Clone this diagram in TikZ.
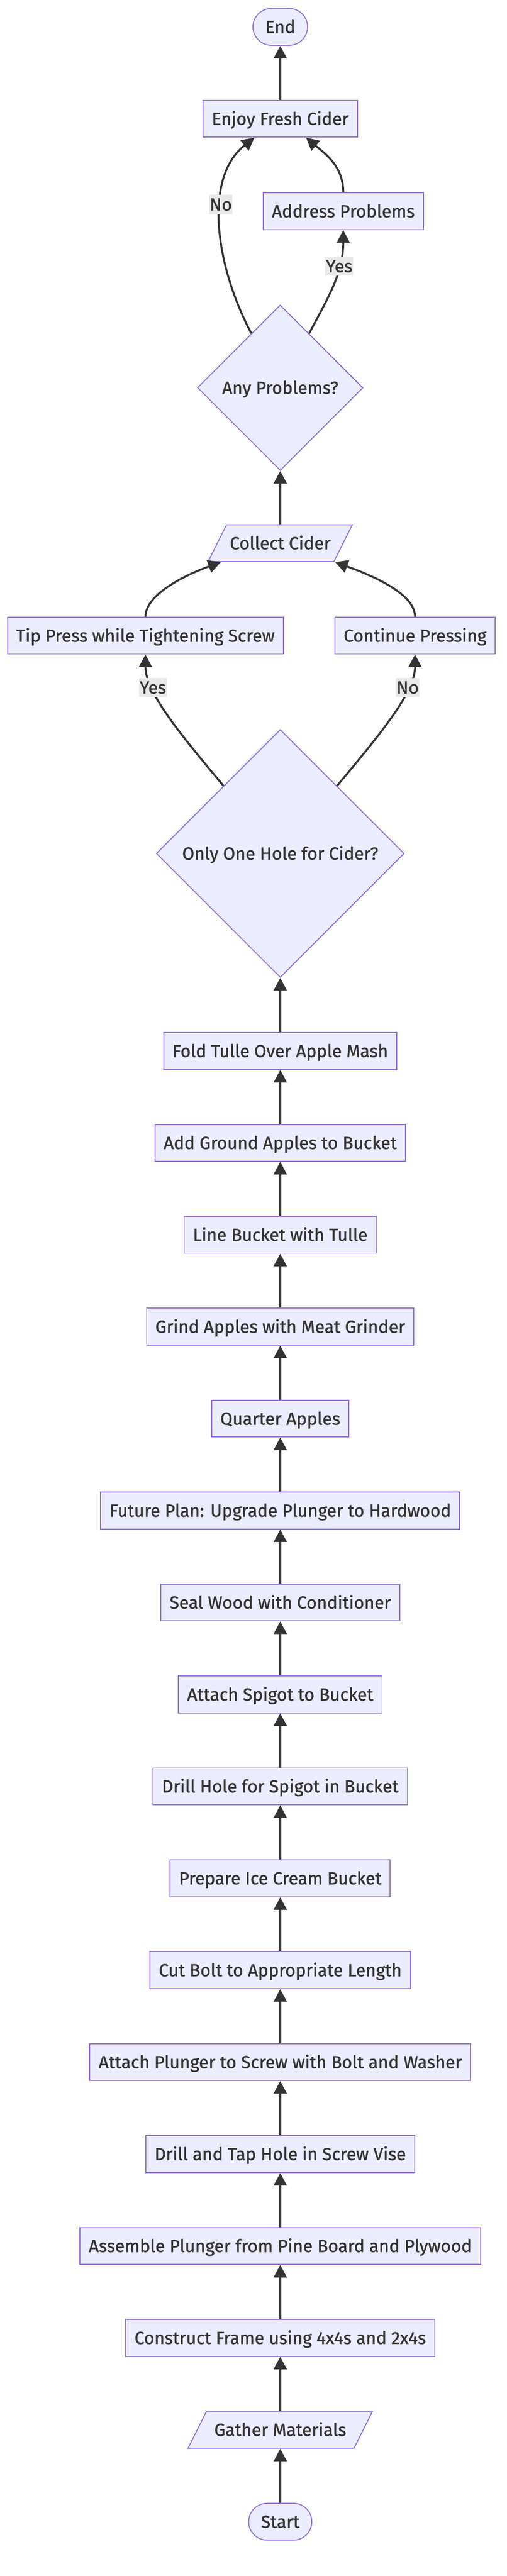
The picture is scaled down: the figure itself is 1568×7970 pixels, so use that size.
\documentclass[tikz,border=0pt]{standalone}
\usepackage{fontspec}
\setmainfont{Fira Sans}[FakeBold=1]
\usetikzlibrary{arrows.meta, shapes, positioning}

\definecolor{boxfill}{HTML}{ECECFF}
\definecolor{boxline}{HTML}{9370DB}
\definecolor{ink}{HTML}{333333}
\definecolor{lblfill}{HTML}{E8E8E8}

\begin{document}
\begin{tikzpicture}[x=1pt, y=1pt, node distance=284.4pt, on grid,
    font=\fontsize{54.5}{66}\selectfont, text=ink,
    base/.style={draw=boxline, fill=boxfill, line width=3pt, text height=49pt, text depth=11pt, inner ysep=27pt},
    process/.style={base, rectangle, inner xsep=27pt},
    terminal/.style={base, rectangle, rounded corners=57pt, inner xsep=38pt},
    io/.style={base, trapezium, trapezium left angle=63.4, trapezium right angle=116.6, inner xsep=24pt},
    decision/.style={base, diamond, inner sep=0pt},
    flow/.style={every edge/.style={draw=ink, line width=6pt, -{Triangle[length=39pt,width=40pt]}}},
    lbl/.style={fill=lblfill, inner xsep=2pt, inner ysep=0pt, text height=49pt, text depth=11pt}]
		\useasboundingbox (0,0) rectangle (1568,-7970);

		\node[terminal] (start) at (867,-7802) {Start};
		\node[io, above=of start] (gather) {Gather Materials};
		\node[process, above=of gather] (frame) {Construct Frame using 4x4s and 2x4s};
		\node[process, above=of frame] (plunger) {Assemble Plunger from Pine Board and Plywood};
		\node[process, above=of plunger] (tap) {Drill and Tap Hole in Screw Vise};
		\node[process, above=of tap] (attach) {Attach Plunger to Screw with Bolt and Washer};
		\node[process, above=of attach] (bolt) {Cut Bolt to Appropriate Length};
		\node[process, above=of bolt] (bucket) {Prepare Ice Cream Bucket};
		\node[process, above=of bucket] (drill) {Drill Hole for Spigot in Bucket};
		\node[process, above=of drill] (spigot) {Attach Spigot to Bucket};
		\node[process, above=of spigot] (seal) {Seal Wood with Conditioner};
		\node[process, above=of seal] (future) {Future Plan: Upgrade Plunger to Hardwood};
		\node[process, above=of future] (quarter) {Quarter Apples};
		\node[process, above=of quarter] (grind) {Grind Apples with Meat Grinder};
		\node[process, above=of grind] (tulle) {Line Bucket with Tulle};
		\node[process, above=of tulle] (add) {Add Ground Apples to Bucket};
		\node[process, above=of add] (fold) {Fold Tulle Over Apple Mash};
		\node[decision, minimum size=767pt, above=611pt of fold] (onehole) {Only One Hole for Cider?};
		\node[process, above left=674pt and 417pt of onehole] (tip) {Tip Press while Tightening Screw};
		\node[process, above right=674pt and 417pt of onehole] (cont) {Continue Pressing};
		\node[io, inner xsep=10pt, above=960pt of onehole] (collect) {Collect Cider};
		\node[decision, minimum size=512pt, above=481pt of collect] (problems) {Any Problems?};
		\node[process, above right=546pt and 195pt of problems] (fix) {Address Problems};
		\node[process, above=832pt of problems] (enjoy) {Enjoy Fresh Cider};
		\node[terminal, above=of enjoy] (end) {End};

		\path[flow] (start) edge (gather)
		          (gather) edge (frame)
		          (frame) edge (plunger)
		          (plunger) edge (tap)
		          (tap) edge (attach)
		          (attach) edge (bolt)
		          (bolt) edge (bucket)
		          (bucket) edge (drill)
		          (drill) edge (spigot)
		          (spigot) edge (seal)
		          (seal) edge (future)
		          (future) edge (quarter)
		          (quarter) edge (grind)
		          (grind) edge (tulle)
		          (tulle) edge (add)
		          (add) edge (fold)
		          (fold) edge (onehole)
		          (onehole.130) edge[out=130, in=-90, out looseness=1.3, in looseness=.6] node[lbl, pos=.7] {Yes} (tip)
		          (onehole.50) edge[out=50, in=-90, out looseness=1.3, in looseness=.6] node[lbl, pos=.7] {No} (cont)
		          (tip) edge[out=90, in=200, out looseness=.6, in looseness=1.1] ([xshift=-184pt]collect.south)
		          (cont) edge[out=90, in=-20, out looseness=.6, in looseness=1.1] ([xshift=170pt]collect.south)
		          (collect) edge (problems)
		          (problems.118) edge[out=118, in=218, in looseness=.85] node[lbl, pos=.6] {No} ([xshift=-80pt]enjoy.south)
		          (problems.62) edge[out=62, in=-90] node[lbl, pos=.68] {Yes} (fix)
		          (fix) edge[out=90, in=-40] ([xshift=80pt]enjoy.south)
		          (enjoy) edge (end);
	\end{tikzpicture}
\end{document}
